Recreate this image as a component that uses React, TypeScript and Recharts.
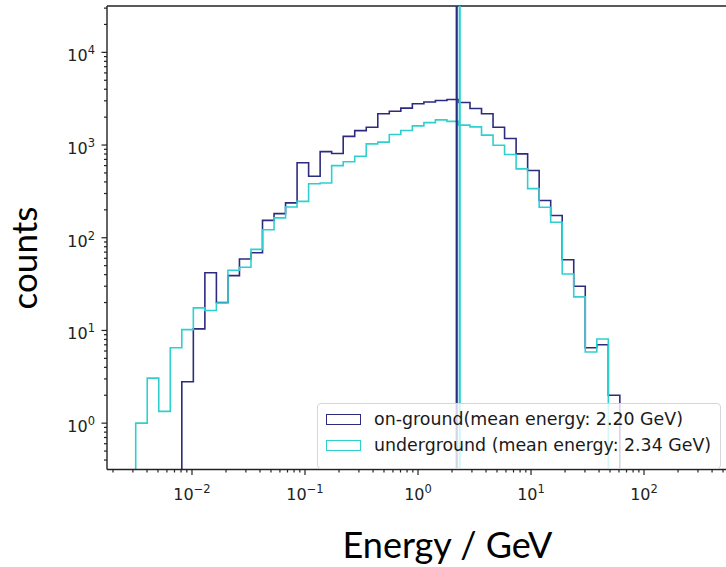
import { LineChart, Line, XAxis, YAxis, ReferenceLine, Legend, Label } from 'recharts';

// log-spaced histogram bins (42 bins, same edges for both samples)
const binStartLog = -2.498;
const binWidthLog = 0.102;

// counts per bin (0 = empty bin)
const onGround = [
  0, 0, 0, 0, 2.8, 10.4, 42, 20, 39, 59,
  69, 154, 182, 238, 645, 460, 850, 810, 1240, 1430,
  1557, 2172, 2318, 2500, 2790, 2910, 3020, 3100, 2880, 2480,
  2172, 1556, 1175, 804, 531, 252, 174, 58, 30, 6.5,
  7.0, 2.0,
];
const underground = [
  1.0, 3.06, 1.34, 6.5, 10.2, 17.5, 16.4, 19.8, 44.6, 48,
  75, 122, 164, 215, 247, 382, 390, 600, 660, 757,
  1030, 1075, 1300, 1435, 1610, 1745, 1870, 1800, 1640, 1572,
  1279, 995, 791, 553, 339, 213, 147, 40.6, 23, 5.85,
  8.1, 0,
];

const meanOnGround = 2.2;
const meanUnderground = 2.34;

const seriesNames = [
  'on-ground(mean energy: 2.20 GeV)',
  'underground (mean energy: 2.34 GeV)',
];

const xMajorTicks = [0.01, 0.1, 1, 10, 100];
const yMajorTicks = [1, 10, 100, 1000, 10000];
const minorSteps = [2, 3, 4, 5, 6, 7, 8, 9];

const X_DOMAIN = [10 ** -2.752, 10 ** 2.743];
const Y_DOMAIN = [10 ** -0.5, 10 ** 4.5];
// empty bins sit below the axis floor, so the step drops out of view
const FLOOR = 0.05;

const NAVY = '#2d2b7f';
const CYAN = '#2fcfcf';
const INK = '#222';

const edges = Array.from({ length: onGround.length + 1 }, (_, i) => 10 ** (binStartLog + i * binWidthLog));

const rows = [
  { e: edges[0], onGround: FLOOR, underground: FLOOR },
  ...onGround.map((v, i) => ({
    e: edges[i],
    onGround: v || FLOOR,
    underground: underground[i] || FLOOR,
  })),
  { e: edges[onGround.length], onGround: FLOOR, underground: FLOOR },
];

function withMinors(majors: number[], lo: number, hi: number) {
  const out = [...majors];
  for (let k = Math.floor(Math.log10(lo)); k <= Math.ceil(Math.log10(hi)); k++) {
    for (const m of minorSteps) {
      const v = m * 10 ** k;
      if (v > lo && v < hi) out.push(v);
    }
  }
  return out.sort((a, b) => a - b);
}

const xTicks = withMinors(xMajorTicks, X_DOMAIN[0], X_DOMAIN[1]);
const yTicks = withMinors(yMajorTicks, Y_DOMAIN[0], Y_DOMAIN[1]);

const exponent = (v: number) => {
  const k = Math.round(Math.log10(v));
  return k < 0 ? `\u2212${-k}` : `${k}`;
};

const tickFont = { fontFamily: 'DejaVu Sans', fill: INK };

function XTick({ x, y, payload }: any) {
  const major = xMajorTicks.includes(payload.value);
  return (
    <g>
      <line x1={x} x2={x} y1={y} y2={y + (major ? 5.5 : 3)} stroke={INK} strokeWidth={1.2} />
      {major && (
        <text x={x} y={y + 30} textAnchor="middle" fontSize={16} {...tickFont}>
          10<tspan dy={-7} fontSize={11.5}>{exponent(payload.value)}</tspan>
        </text>
      )}
    </g>
  );
}

function YTick({ x, y, payload }: any) {
  const major = yMajorTicks.includes(payload.value);
  return (
    <g>
      <line x1={x} x2={x - (major ? 5.5 : 3)} y1={y} y2={y} stroke={INK} strokeWidth={1.2} />
      {major && (
        <text x={x - 12} y={y + 9} textAnchor="end" fontSize={16} {...tickFont}>
          10<tspan dy={-7} fontSize={11.5}>{exponent(payload.value)}</tspan>
        </text>
      )}
    </g>
  );
}

function LegendBox() {
  const colors = [NAVY, CYAN];
  return (
    <div
      style={{
        width: 404,
        height: 66,
        boxSizing: 'border-box',
        border: '1px solid #d6d6d6',
        borderRadius: 4,
        background: 'rgba(255,255,255,0.8)',
        padding: '2px 0 0 8px',
        fontFamily: 'DejaVu Sans',
        fontSize: 17.4,
        color: '#1a1a1a',
      }}
    >
      {seriesNames.map((name, i) => (
        <div key={name} style={{ display: 'flex', alignItems: 'center', height: 26, whiteSpace: 'nowrap' }}>
          <span
            style={{
              display: 'inline-block',
              width: 35,
              height: 11,
              boxSizing: 'border-box',
              border: `1.5px solid ${colors[i]}`,
              marginRight: 13,
            }}
          />
          {name}
        </div>
      ))}
    </div>
  );
}

export default function App() {
  return (
    <div style={{ width: 726, height: 567, overflow: 'hidden', background: '#fff' }}>
      <style>{'body{margin:0}'}</style>
      <LineChart width={740} height={567} data={rows} margin={{ top: 6, right: 12, bottom: 0, left: 0 }}>
        <XAxis
          dataKey="e"
          type="number"
          scale="log"
          domain={X_DOMAIN}
          allowDataOverflow
          ticks={xTicks}
          interval={0}
          tickSize={0}
          tickMargin={0}
          tickLine={false}
          tick={<XTick />}
          height={97.5}
          axisLine={{ stroke: INK, strokeWidth: 1.4 }}
          label={
            <Label
              content={({ viewBox }: any) => (
                <text
                  x={viewBox.x + viewBox.width / 2 + 30}
                  y={viewBox.y + 88}
                  textAnchor="middle"
                  fontFamily="Lato"
                  fontSize={36}
                  fill="#000"
                >
                  Energy / GeV
                </text>
              )}
            />
          }
        />
        <YAxis
          type="number"
          scale="log"
          domain={Y_DOMAIN}
          allowDataOverflow
          ticks={yTicks}
          interval={0}
          tickSize={0}
          tickMargin={0}
          tickLine={false}
          tick={<YTick />}
          width={107}
          axisLine={{ stroke: INK, strokeWidth: 1.4 }}
          label={
            <Label
              content={({ viewBox }: any) => {
                const cx = viewBox.x + 37;
                const cy = viewBox.y + 252;
                return (
                  <text
                    x={cx}
                    y={cy}
                    transform={`rotate(-90, ${cx}, ${cy})`}
                    textAnchor="middle"
                    fontFamily="Lato"
                    fontSize={35}
                    fill="#000"
                  >
                    counts
                  </text>
                );
              }}
            />
          }
        />
        <ReferenceLine y={Y_DOMAIN[1]} stroke={INK} strokeWidth={1.4} ifOverflow="visible" />
        <Line
          type="stepAfter"
          dataKey="onGround"
          stroke={NAVY}
          strokeWidth={1.6}
          dot={false}
          isAnimationActive={false}
        />
        <Line
          type="stepAfter"
          dataKey="underground"
          stroke={CYAN}
          strokeWidth={1.6}
          dot={false}
          isAnimationActive={false}
        />
        <ReferenceLine x={meanOnGround} stroke={NAVY} strokeWidth={2.2} />
        <ReferenceLine x={meanUnderground} stroke={CYAN} strokeWidth={2.2} />
        <Legend
          layout="vertical"
          align="center"
          verticalAlign="middle"
          wrapperStyle={{ left: 317, top: 403, width: 'auto' }}
          content={() => <LegendBox />}
        />
      </LineChart>
    </div>
  );
}
